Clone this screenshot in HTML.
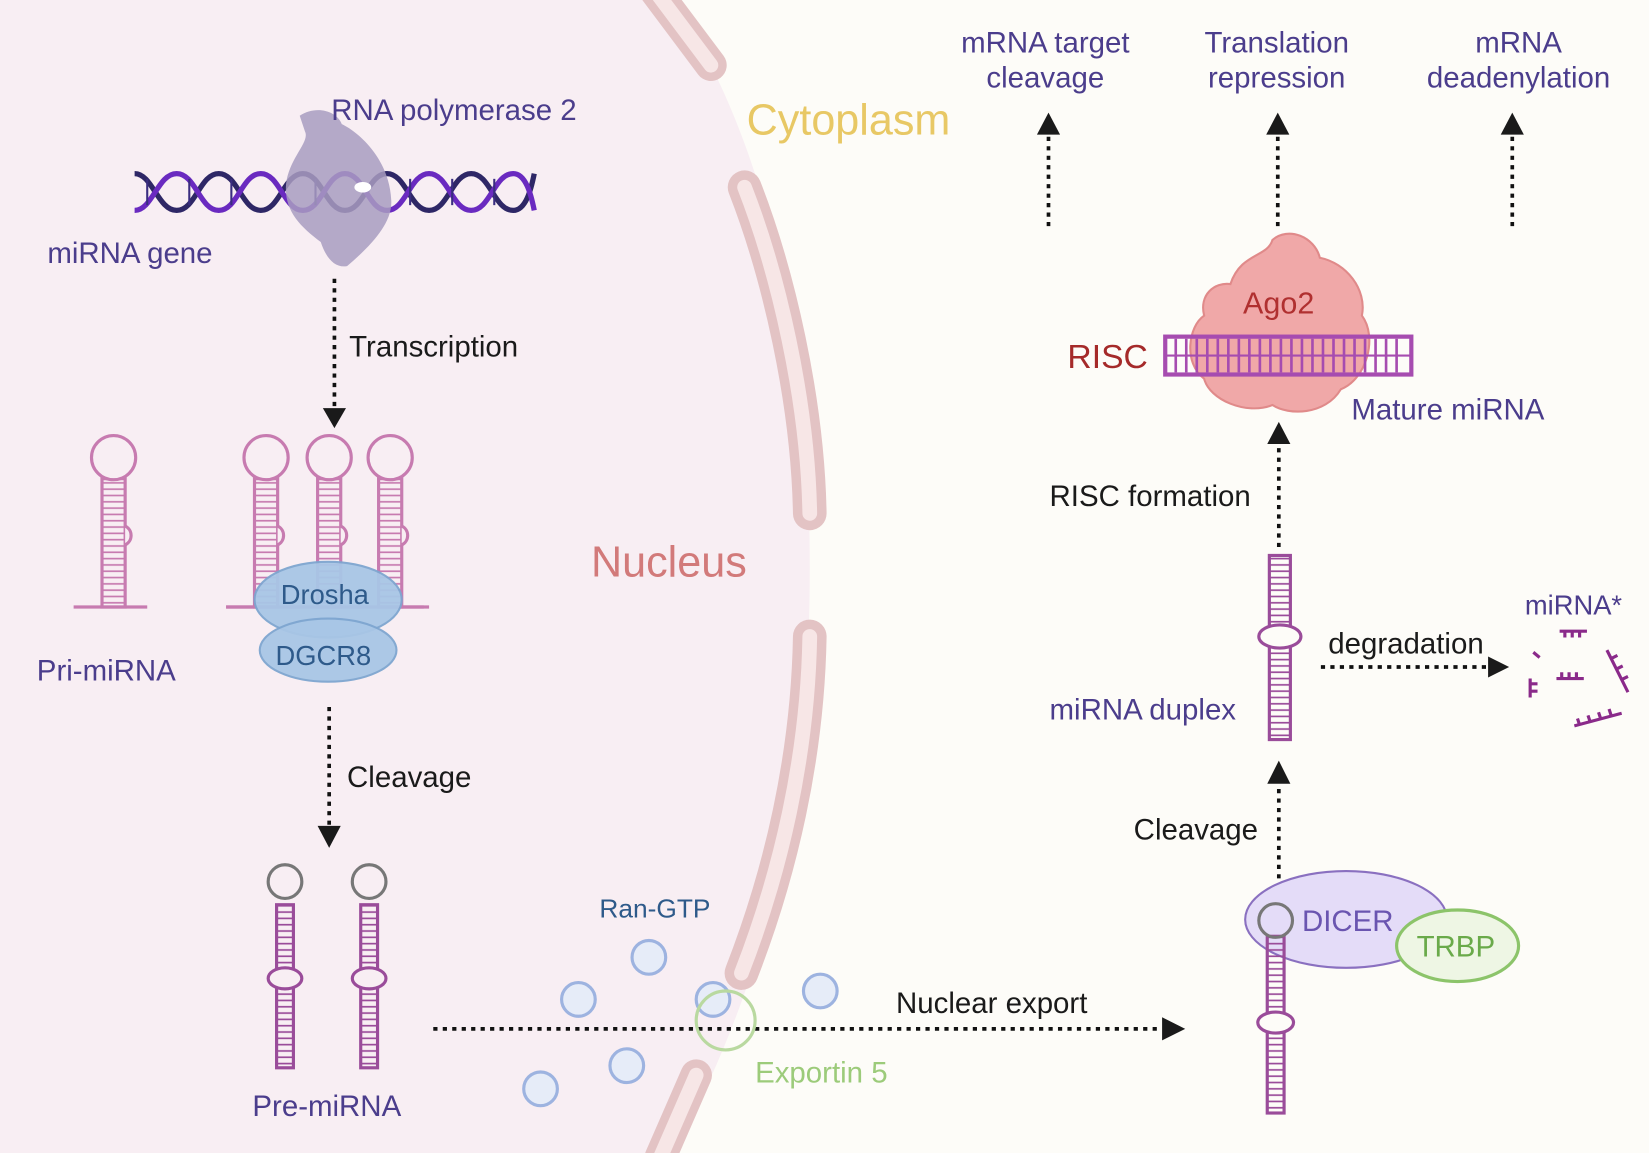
<!DOCTYPE html>
<html><head><meta charset="utf-8"><style>
html,body{margin:0;padding:0;background:#fdfcf8;}
svg{display:block;}
text{font-family:"Liberation Sans",sans-serif;}
</style></head><body>
<svg width="1649" height="1153" viewBox="0 0 1568 1096" preserveAspectRatio="none" xmlns="http://www.w3.org/2000/svg">
<defs>
<pattern id="lad" width="20" height="6" patternUnits="userSpaceOnUse"><line x1="0" y1="3" x2="20" y2="3" stroke="#c77bb0" stroke-width="1.6"/></pattern>
<pattern id="ladp" width="20" height="6" patternUnits="userSpaceOnUse"><line x1="0" y1="3" x2="20" y2="3" stroke="#9a4c9a" stroke-width="1.6"/></pattern>
</defs>
<rect width="1568" height="1096" fill="#fdfcf8"/>
<path d="M0,0 L640,0 C720,120 770,300 770,540 C770,780 720,950 640,1096 L0,1096 Z" fill="#f8eef3"/>
<g fill="none" stroke-linecap="round">
<path d="M622,-10 L676,62" stroke="#e3c3c4" stroke-width="30"/><path d="M622,-10 L676,62" stroke="#f7e6e6" stroke-width="14"/>
<path d="M708,178 C740,260 768,380 770,488" stroke="#e3c3c4" stroke-width="32"/><path d="M708,178 C740,260 768,380 770,488" stroke="#f7e6e6" stroke-width="14"/>
<path d="M770,605 C768,720 742,830 705,925" stroke="#e3c3c4" stroke-width="32"/><path d="M770,605 C768,720 742,830 705,925" stroke="#f7e6e6" stroke-width="14"/>
<path d="M662,1022 L628,1100" stroke="#e3c3c4" stroke-width="30"/><path d="M662,1022 L628,1100" stroke="#f7e6e6" stroke-width="14"/>
</g>
<g fill="none" stroke-width="5">
<path d="M128,165 C145,165 150,200 168,200 C186,200 190,165 208,165 C226,165 230,200 248,200 C266,200 270,165 288,165 C306,165 310,200 328,200 C346,200 350,165 368,165 C386,165 390,200 408,200 C426,200 430,165 448,165 C466,165 470,200 488,200 C500,200 505,180 508,165" stroke="#2e2766"/>
<path d="M128,200 C145,200 150,165 168,165 C186,165 190,200 208,200 C226,200 230,165 248,165 C266,165 270,200 288,200 C306,200 310,165 328,165 C346,165 350,200 368,200 C386,200 390,165 408,165 C426,165 430,200 448,200 C466,200 470,165 488,165 C500,165 505,185 508,200" stroke="#6a2ac0"/>
</g>
<g stroke="#3a2d80" stroke-width="2">
<line x1="140" y1="170" x2="140" y2="195"/><line x1="180" y1="170" x2="180" y2="195"/><line x1="220" y1="170" x2="220" y2="195"/><line x1="300" y1="170" x2="300" y2="195"/><line x1="390" y1="170" x2="390" y2="195"/><line x1="430" y1="170" x2="430" y2="195"/><line x1="470" y1="170" x2="470" y2="195"/>
</g>
<path d="M285,110 C300,100 320,105 325,118 C340,125 370,150 372,190 C374,215 345,240 330,253 C318,255 310,245 305,230 C285,215 270,200 272,175 C275,150 295,135 290,125 Z" fill="#a89cc0" opacity="0.85"/>
<ellipse cx="345" cy="178" rx="8" ry="5" fill="#fff"/>
<g font-size="28" fill="#4b3d8c">
<text x="315" y="114">RNA polymerase 2</text>
<text x="45" y="250">miRNA gene</text>
<text x="35" y="647">Pri-miRNA</text>
<text x="240" y="1061">Pre-miRNA</text>
</g>
<g font-size="28" fill="#1a1a1a">
<text x="332" y="339">Transcription</text>
<text x="330" y="748">Cleavage</text>
<text x="852" y="963">Nuclear export</text>
<text x="998" y="481">RISC formation</text>
<text x="1078" y="798">Cleavage</text>
<text x="1263" y="621">degradation</text>
</g>
<text x="562" y="548" font-size="41" fill="#d27a7a">Nucleus</text>
<text x="710" y="128" font-size="41" fill="#e8c865">Cytoplasm</text>
<g stroke="#111" stroke-width="3.5" stroke-dasharray="4,5" fill="none">
<line x1="318" y1="265" x2="318" y2="390"/>
<line x1="313" y1="672" x2="313" y2="785"/>
<line x1="412" y1="978" x2="1105" y2="978"/>
<line x1="1216" y1="835" x2="1216" y2="745"/>
<line x1="1216" y1="520" x2="1216" y2="420"/>
<line x1="1256" y1="634" x2="1415" y2="634"/>
<line x1="997" y1="215" x2="997" y2="125"/>
<line x1="1215" y1="215" x2="1215" y2="125"/>
<line x1="1438" y1="215" x2="1438" y2="125"/>
</g>
<g fill="#1a1a1a">
<polygon points="307,388 329,388 318,407"/>
<polygon points="302,785 324,785 313,806"/>
<polygon points="1105,967 1105,989 1127,978"/>
<polygon points="1205,745 1227,745 1216,723"/>
<polygon points="1205,422 1227,422 1216,401"/>
<polygon points="1415,624 1415,644 1435,634"/>
<polygon points="986,128 1008,128 997,107"/>
<polygon points="1204,128 1226,128 1215,107"/>
<polygon points="1427,128 1449,128 1438,107"/>
</g>
<g id="pri">
<path d="M70,577 L140,577" stroke="#c77bb0" stroke-width="3"/>
<rect x="97" y="455" width="22" height="122" fill="url(#lad)" stroke="#c77bb0" stroke-width="3"/>
<circle cx="108" cy="435" r="21" fill="#f8eef3" stroke="#c77bb0" stroke-width="3"/>
<path d="M119,500 a10,10 0 0 1 0,18" fill="#f8eef3" stroke="#c77bb0" stroke-width="3"/>
</g>
<use href="#pri" x="145"/>
<use href="#pri" x="205"/>
<use href="#pri" x="263"/>
<path d="M215,577 L408,577" stroke="#c77bb0" stroke-width="3"/>
<ellipse cx="312" cy="570" rx="70" ry="36" fill="#a8c6e6" stroke="#7ea6d0" stroke-width="2" opacity="0.95"/>
<ellipse cx="312" cy="618" rx="65" ry="30" fill="#a8c6e6" stroke="#7ea6d0" stroke-width="2" opacity="0.95"/>
<text x="267" y="574" font-size="26" fill="#2e5a8a">Drosha</text>
<text x="262" y="632" font-size="26" fill="#2e5a8a">DGCR8</text>
<g id="pre">
<rect x="263" y="860" width="16" height="155" fill="url(#ladp)" stroke="#9a4c9a" stroke-width="3"/>
<circle cx="271" cy="838" r="16" fill="#f8eef3" stroke="#777" stroke-width="3"/>
<ellipse cx="271" cy="930" rx="16" ry="10" fill="#f8eef3" stroke="#9a4c9a" stroke-width="3"/>
</g>
<use href="#pre" x="80"/>
<text x="570" y="872" font-size="25" fill="#2e5a8a">Ran-GTP</text>
<g fill="#e6ecf8" stroke="#9db3e0" stroke-width="3">
<circle cx="617" cy="910" r="16"/><circle cx="550" cy="950" r="16"/><circle cx="678" cy="950" r="16"/><circle cx="780" cy="942" r="16"/><circle cx="596" cy="1013" r="16"/><circle cx="514" cy="1035" r="16"/>
</g>
<circle cx="690" cy="970" r="28" fill="none" stroke="#b9d9a0" stroke-width="3"/>
<text x="718" y="1029" font-size="28" fill="#9ccb7a">Exportin 5</text>
<ellipse cx="1280" cy="874" rx="96" ry="46" fill="#e4dcf8" stroke="#8a70c0" stroke-width="2"/>
<text x="1238" y="885" font-size="28" fill="#6a55b0">DICER</text>
<ellipse cx="1386" cy="899" rx="58" ry="34" fill="#eef6e4" stroke="#8cc46a" stroke-width="3"/>
<text x="1347" y="909" font-size="28" fill="#6aaa4a">TRBP</text>
<rect x="1205" y="890" width="16" height="168" fill="url(#ladp)" stroke="#9a4c9a" stroke-width="3"/>
<circle cx="1213" cy="875" r="16" fill="none" stroke="#777" stroke-width="3"/>
<ellipse cx="1213" cy="972" rx="17" ry="10" fill="#fdfcf8" stroke="#9a4c9a" stroke-width="3"/>
<rect x="1207" y="528" width="20" height="175" fill="url(#ladp)" stroke="#9a4c9a" stroke-width="3"/>
<ellipse cx="1217" cy="605" rx="20" ry="11" fill="#fdfcf8" stroke="#9a4c9a" stroke-width="3"/>
<text x="998" y="684" font-size="28" fill="#4b3d8c">miRNA duplex</text>
<text x="1450" y="584" font-size="26" fill="#4b3d8c">miRNA*</text>
<g stroke="#8a2a8a" stroke-width="3" fill="none">
<path d="M1483,600 h26 M1488,600 v6 M1495,600 v6 M1502,600 v6"/>
<path d="M1480,645 h26 M1485,645 v-6 M1492,645 v-6 M1499,645 v-6"/>
<path d="M1455,645 v18 M1455,650 h7 M1455,657 h7"/>
<path d="M1458,620 l6,5"/>
<path d="M1528,618 l20,40 M1532,626 l6,-3 M1537,636 l6,-3 M1542,646 l6,-3"/>
<path d="M1497,690 l45,-12 M1502,689 l-2,-6 M1512,686 l-2,-6 M1522,683 l-2,-6 M1532,680 l-2,-6"/>
</g>
<path d="M1170,270 C1180,240 1205,245 1210,228 C1225,215 1250,225 1255,245 C1280,250 1300,275 1295,300 C1310,320 1300,360 1275,370 C1260,395 1225,395 1210,385 C1185,395 1150,380 1145,360 C1125,345 1130,310 1145,300 C1140,280 1155,268 1170,270 Z" fill="#f0a8a8" stroke="#e08a8a" stroke-width="2"/>
<rect x="1108" y="320" width="234" height="36" fill="none" stroke="#a64cb0" stroke-width="4"/>
<line x1="1108" y1="338" x2="1342" y2="338" stroke="#a64cb0" stroke-width="2"/>
<g stroke="#a64cb0" stroke-width="2.5">
<path d="M1118,322v32M1128,322v32M1138,322v32M1148,322v32M1158,322v32M1168,322v32M1178,322v32M1188,322v32M1198,322v32M1208,322v32M1218,322v32M1228,322v32M1238,322v32M1248,322v32M1258,322v32M1268,322v32M1278,322v32M1288,322v32M1298,322v32M1308,322v32M1318,322v32M1328,322v32"/>
</g>
<text x="1182" y="298" font-size="29" fill="#b03030">Ago2</text>
<text x="1015" y="350" font-size="32" fill="#a52a2a">RISC</text>
<text x="1285" y="399" font-size="28" fill="#4b3d8c">Mature miRNA</text>
<g font-size="28" fill="#4b3d8c" text-anchor="middle">
<text x="994" y="50">mRNA target</text><text x="994" y="83">cleavage</text>
<text x="1214" y="50">Translation</text><text x="1214" y="83">repression</text>
<text x="1444" y="50">mRNA</text><text x="1444" y="83">deadenylation</text>
</g>
</svg>
</body></html>
